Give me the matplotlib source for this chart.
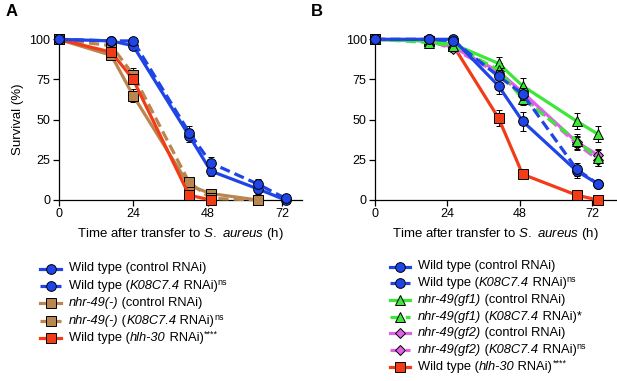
import matplotlib
matplotlib.use("Agg")
import matplotlib.pyplot as plt
from matplotlib.lines import Line2D

plt.rcParams['font.family'] = ['Liberation Sans', 'DejaVu Sans']
plt.rcParams['mathtext.fontset'] = 'custom'
plt.rcParams['mathtext.rm'] = 'Liberation Sans'
plt.rcParams['mathtext.it'] = 'Liberation Sans:italic'
plt.rcParams['mathtext.bf'] = 'Liberation Sans:bold'

# ---------------- data panel A ----------------
time_a = [0, 17, 24, 42, 49, 64, 73]
wt_ctrl_a = [100, 99, 96, 40, 18, 7, 0]
wt_ctrl_a_err = [0, 1, 2, 4, 3, 3, 1]
wt_k08_a = [100, 99, 99, 42, 23, 10, 1]
wt_k08_a_err = [0, 1, 1, 4, 4, 3, 1]
time_a_mut = [0, 17, 24, 42, 49, 64]
nhr_ctrl_a = [100, 90, 65, 9, 4, 0]
nhr_ctrl_a_err = [0, 2, 4, 3, 2, 0]
nhr_k08_a = [100, 96, 78, 11, 1, 0]
nhr_k08_a_err = [0, 2, 4, 3, 1, 0]
time_a_hlh = [0, 17, 24, 42, 49]
hlh_a = [100, 92, 75, 3, 0]
hlh_a_err = [0, 2, 3, 2, 0]

# ---------------- data panel B ----------------
time_b = [0, 18, 26, 41, 49, 67, 74]
wt_ctrl_b = [100, 100, 100, 71, 49, 18, 10]
wt_ctrl_b_err = [0, 1, 1, 5, 6, 4, 2]
wt_k08_b = [100, 100, 99, 77, 66, 19, 10]
wt_k08_b_err = [0, 1, 1, 4, 4, 4, 2]
gf1_ctrl_b = [100, 99, 97, 85, 71, 49, 41]
gf1_ctrl_b_err = [0, 1, 1, 4, 5, 5, 5]
gf1_k08_b = [100, 98, 96, 81, 63, 37, 26]
gf1_k08_b_err = [0, 1, 2, 4, 4, 4, 5]
gf2_ctrl_b = [100, 99, 95, 80, 67, 36, 28]
gf2_ctrl_b_err = [0, 1, 2, 3, 4, 4, 4]
gf2_k08_b = [100, 99, 94, 79, 65, 35, 25]
gf2_k08_b_err = [0, 1, 2, 3, 4, 4, 4]
hlh_b = [100, 99, 96, 51, 16, 3, 0]
hlh_b_err = [0, 1, 2, 5, 3, 1, 0]

# legend labels as (text, style) pieces: n = normal, i = italic, s = superscript
labels_a = [
    [('Wild type (control RNAi)', 'n')],
    [('Wild type (', 'n'), ('K08C7.4', 'i'), (' RNAi)', 'n'), ('ns', 's')],
    [('nhr-49(-)', 'i'), (' (control RNAi)', 'n')],
    [('nhr-49(-)', 'i'), (' (', 'n'), ('K08C7.4', 'i'), (' RNAi)', 'n'), ('ns', 's')],
    [('Wild type (', 'n'), ('hlh-30', 'i'), (' RNAi)', 'n'), ('****', 's')],
]
labels_b = [
    [('Wild type (control RNAi)', 'n')],
    [('Wild type (', 'n'), ('K08C7.4', 'i'), (' RNAi)', 'n'), ('ns', 's')],
    [('nhr-49(gf1)', 'i'), (' (control RNAi)', 'n')],
    [('nhr-49(gf1)', 'i'), (' (', 'n'), ('K08C7.4', 'i'), (' RNAi)*', 'n')],
    [('nhr-49(gf2)', 'i'), (' (control RNAi)', 'n')],
    [('nhr-49(gf2)', 'i'), (' (', 'n'), ('K08C7.4', 'i'), (' RNAi)', 'n'), ('ns', 's')],
    [('Wild type (', 'n'), ('hlh-30', 'i'), (' RNAi)', 'n'), ('****', 's')],
]

BLUE = '#1f45e6'
BROWN = '#b98650'
RED = '#f23c17'
GREEN = '#3ee63a'
PINK = '#e060e6'
DASH = (0, (3.2, 1.6))

fig = plt.figure(figsize=(6.17, 3.81), dpi=100)
W, H = 617, 381

def add_axes(x0, x1, y0, y1):
    return fig.add_axes([x0 / W, 1 - y1 / H, (x1 - x0) / W, (y1 - y0) / H])

axA = add_axes(58.5, 302, 39.3, 200)
axB = add_axes(375, 616, 39.3, 200)

def msize(marker):
    return 5.5 if marker == 'D' else (7.5 if marker == '^' else 7)

def series(ax, t, y, e, color, marker, ls, z):
    ax.errorbar(t, y, yerr=e, color=color, lw=2.3, ls=ls, marker=marker,
                ms=msize(marker), mfc=color, mec='black', mew=0.7,
                ecolor='black', elinewidth=0.8, capsize=2.5, capthick=0.8,
                clip_on=False, zorder=z)

series(axA, time_a_mut, nhr_ctrl_a, nhr_ctrl_a_err, BROWN, 's', '-', 3)
series(axA, time_a_mut, nhr_k08_a, nhr_k08_a_err, BROWN, 's', DASH, 3)
series(axA, time_a_hlh, hlh_a, hlh_a_err, RED, 's', '-', 4)
series(axA, time_a, wt_ctrl_a, wt_ctrl_a_err, BLUE, 'o', '-', 5)
series(axA, time_a, wt_k08_a, wt_k08_a_err, BLUE, 'o', DASH, 5)

series(axB, time_b, hlh_b, hlh_b_err, RED, 's', '-', 3)
series(axB, time_b, gf2_ctrl_b, gf2_ctrl_b_err, PINK, 'D', '-', 3)
series(axB, time_b, gf2_k08_b, gf2_k08_b_err, PINK, 'D', DASH, 3)
series(axB, time_b, gf1_ctrl_b, gf1_ctrl_b_err, GREEN, '^', '-', 4)
series(axB, time_b, gf1_k08_b, gf1_k08_b_err, GREEN, '^', DASH, 4)
series(axB, time_b, wt_ctrl_b, wt_ctrl_b_err, BLUE, 'o', '-', 5)
series(axB, time_b, wt_k08_b, wt_k08_b_err, BLUE, 'o', DASH, 5)

for ax, xmax in ((axA, 78.3), (axB, 80)):
    ax.set_xlim(0, xmax)
    ax.set_ylim(0, 100)
    ax.set_xticks([0, 24, 48, 72])
    ax.set_yticks([0, 25, 50, 75, 100])
    for s in ('top', 'right'):
        ax.spines[s].set_visible(False)
    for s in ('left', 'bottom'):
        ax.spines[s].set_linewidth(0.9)
    ax.tick_params(direction='out', length=4, width=0.9, labelsize=9, pad=2)
    ax.set_xlabel(r'Time after transfer to $\mathit{S.\ aureus}$ (h)', fontsize=9.5, labelpad=4)

axA.set_ylabel('Survival (%)', fontsize=9.5, labelpad=4)

fig.text(6 / W, 1 - 12 / H, 'A', fontsize=12, fontweight='bold', va='center', ha='left')
fig.text(311 / W, 1 - 12 / H, 'B', fontsize=12, fontweight='bold', va='center', ha='left')

renderer = fig.canvas.get_renderer()
FS = 9.3

def rich_text(x, y, pieces):
    # x, y in pixels from top-left; y is the vertical center of the line
    cx = x
    for txt, style in pieces:
        if style == 's':
            t = fig.text(cx / W, 1 - (y - 3.5) / H, txt, fontsize=FS * 0.7,
                         va='center', ha='left')
        else:
            t = fig.text(cx / W, 1 - y / H, txt, fontsize=FS, va='center', ha='left',
                         style='italic' if style == 'i' else 'normal')
        bb = t.get_window_extent(renderer)
        cx += bb.width

def legend(x_handle0, x_handle1, x_text, y0, dy, specs, labels):
    for k, ((color, marker, ls), lab) in enumerate(zip(specs, labels)):
        y = y0 + k * dy
        yf = 1 - y / H
        fig.add_artist(Line2D([x_handle0 / W, x_handle1 / W], [yf, yf], color=color, lw=2.3,
                              ls=ls, transform=fig.transFigure))
        fig.add_artist(Line2D([(x_handle0 + x_handle1) / 2 / W], [yf], color=color, lw=0,
                              marker=marker, ms=msize(marker), mfc=color, mec='black',
                              mew=0.7, transform=fig.transFigure))
        rich_text(x_text, y, lab)

specs_a = [(BLUE, 'o', '-'), (BLUE, 'o', DASH), (BROWN, 's', '-'),
           (BROWN, 's', DASH), (RED, 's', '-')]
specs_b = [(BLUE, 'o', '-'), (BLUE, 'o', DASH), (GREEN, '^', '-'),
           (GREEN, '^', DASH), (PINK, 'D', '-'), (PINK, 'D', DASH), (RED, 's', '-')]

legend(40, 61, 69, 268.5, 17.4, specs_a, labels_a)
legend(390, 410, 418, 266.5, 16.7, specs_b, labels_b)

fig.savefig('out.png', dpi=100)
